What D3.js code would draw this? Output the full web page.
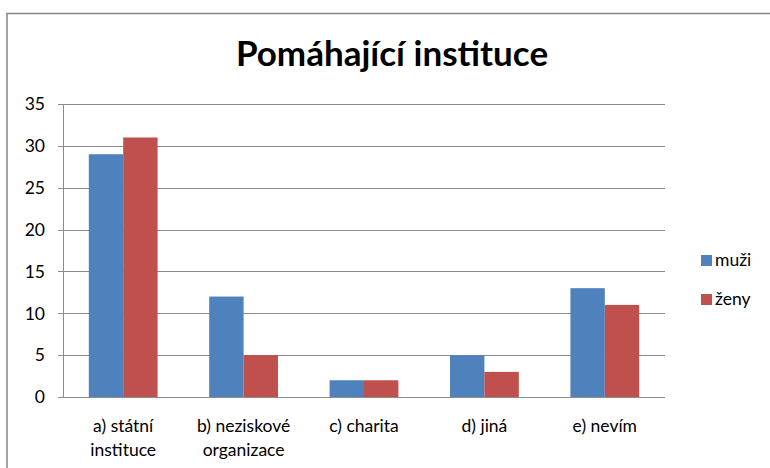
<!DOCTYPE html>
<html>
<head>
<meta charset="utf-8">
<script src="https://cdn.jsdelivr.net/npm/d3@7"></script>
<style>
  body { margin: 0; background: #fff; }
  svg text { font-family: Lato, "Open Sans", sans-serif; fill: #000; }
</style>
</head>
<body>
<div id="chart"></div>
<script>
// data
const categories = [["a) státní", "instituce"], ["b) neziskové", "organizace"], ["c) charita"], ["d) jiná"], ["e) nevím"]];
const seriesNames = ["muži", "ženy"];
const muzi = [29, 12, 2, 5, 13];
const zeny = [31, 5, 2, 3, 11];
const yTicks = [0, 5, 10, 15, 20, 25, 30, 35];
const colors = ["#4F81BD", "#C0504D"];

const W = 770, H = 468;
const margin = { top: 104, left: 63, right: 105, bottom: 71 };
const width = W - margin.left - margin.right,
      height = H - margin.top - margin.bottom;

const svg = d3.select("#chart").append("svg")
    .attr("width", W)
    .attr("height", H);

// chart frame
svg.append("rect")
    .attr("x", 7).attr("y", 13.5)
    .attr("width", 800).attr("height", 500)
    .style("fill", "none")
    .style("stroke", "#868686")
    .style("stroke-width", 1.5);

svg.append("text")
    .attr("x", 392).attr("y", 66)
    .attr("text-anchor", "middle")
    .style("font-size", "35px")
    .style("font-weight", "bold")
    .text("Pomáhající instituce");

const g = svg.append("g")
    .attr("transform", "translate(" + margin.left + "," + margin.top + ")");

const x = d3.scaleBand()
    .domain(d3.range(categories.length))
    .range([0, width])
    .paddingInner(0.4286)
    .paddingOuter(0.2143);
const xs = d3.scaleBand()
    .domain(d3.range(seriesNames.length))
    .range([0, x.bandwidth()]);
const y = d3.scaleLinear().domain([0, 35]).range([height, 0]);

// gridlines + ticks
g.selectAll(".grid")
    .data(yTicks)
    .enter()
    .append("line")
    .attr("x1", -5)
    .attr("x2", width)
    .attr("y1", d => Math.round(y(d)) + 0.5)
    .attr("y2", d => Math.round(y(d)) + 0.5)
    .style("stroke", "#8c8c8c")
    .style("stroke-width", 1);

g.append("line")
    .attr("x1", 0.5).attr("x2", 0.5)
    .attr("y1", 0).attr("y2", height)
    .style("stroke", "#8c8c8c");

g.selectAll(".ylab")
    .data(yTicks)
    .enter()
    .append("text")
    .attr("x", -18)
    .attr("y", d => y(d))
    .attr("dy", "0.36em")
    .attr("text-anchor", "end")
    .style("font-size", "17.5px")
    .text(d => d);

// bars
const series = [muzi, zeny];
series.forEach((vals, s) => {
    g.selectAll(".bar" + s)
        .data(vals)
        .enter()
        .append("rect")
        .attr("x", (d, i) => x(i) + xs(s))
        .attr("y", d => y(d))
        .attr("width", xs.bandwidth())
        .attr("height", d => height - y(d))
        .style("fill", colors[s]);
});

// category labels
const lab = g.selectAll(".xlab")
    .data(categories)
    .enter()
    .append("text")
    .attr("text-anchor", "middle")
    .style("font-size", "17.5px")
    .attr("transform", (d, i) => "translate(" + (x(i) + x.bandwidth() / 2) + "," + (height + 35) + ")");
lab.selectAll("tspan")
    .data(d => d)
    .enter()
    .append("tspan")
    .attr("x", 0)
    .attr("dy", (d, i) => i == 0 ? 0 : 24)
    .text(d => d);

// legend
const leg = svg.append("g").attr("transform", "translate(701,255)");
seriesNames.forEach((name, i) => {
    leg.append("rect")
        .attr("x", 0).attr("y", i * 39)
        .attr("width", 11).attr("height", 11)
        .style("fill", colors[i]);
    leg.append("text")
        .attr("x", 14).attr("y", i * 39 + 11)
        .style("font-size", "17.5px")
        .text(name);
});
</script>
</body>
</html>
